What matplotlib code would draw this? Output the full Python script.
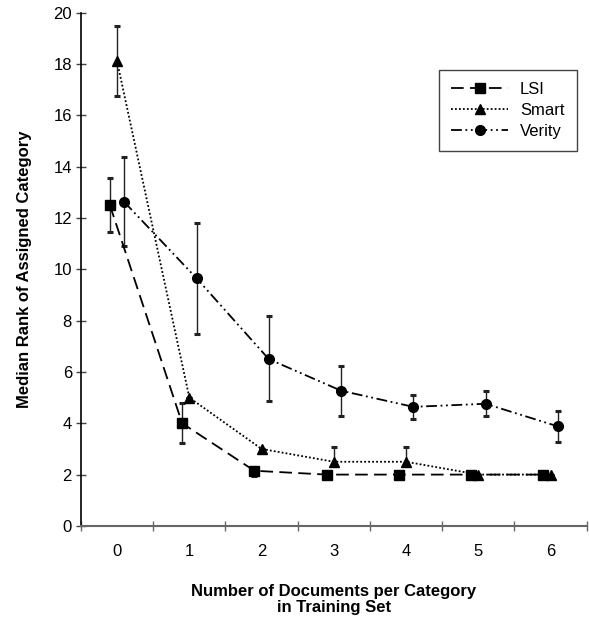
import numpy as np
import matplotlib.pyplot as plt

plt.rcParams['font.family'] = ['Liberation Sans', 'DejaVu Sans']

docs = [0, 1, 2, 3, 4, 5, 6]

lsi = [12.5, 4.0, 2.15, 2.0, 2.0, 2.0, 2.0]
lsi_hi = [13.55, 4.78, 2.3, 2.0, 2.0, 2.0, 2.0]
lsi_lo = [11.47, 3.23, 1.95, 2.0, 2.0, 2.0, 2.0]

smart = [18.1, 5.0, 3.0, 2.5, 2.5, 2.0, 2.0]
smart_hi = [19.5, 5.0, 3.0, 3.08, 3.08, 2.0, 2.0]
smart_lo = [16.75, 5.0, 3.0, 2.4, 2.4, 2.0, 2.0]

verity = [12.62, 9.65, 6.5, 5.27, 4.64, 4.76, 3.88]
verity_hi = [14.38, 11.82, 8.18, 6.25, 5.1, 5.26, 4.48]
verity_lo = [10.9, 7.47, 4.87, 4.29, 4.18, 4.3, 3.28]

fig = plt.figure(figsize=(5.89, 6.18), dpi=100)
ax = fig.add_axes([0.1375, 0.149, 0.8585, 0.8305])

x = np.array(docs)


def draw(vals, hi, lo, shift, ls, marker, ms, label):
    vals = np.array(vals)
    err = [vals - np.array(lo), np.array(hi) - vals]
    ax.errorbar(x + shift, vals, yerr=err, fmt='none', ecolor='#222222',
                elinewidth=1.0, capsize=2.3, capthick=2.2, zorder=2)
    ax.plot(x + shift, vals, color='black', linestyle=ls, linewidth=1.3,
            marker=marker, markersize=ms, label=label, zorder=3)


draw(lsi, lsi_hi, lsi_lo, -0.1, (0, (7, 3.5)), 's', 6.5, 'LSI')
draw(smart, smart_hi, smart_lo, 0.0, (0, (1, 1.2)), '^', 7, 'Smart')
draw(verity, verity_hi, verity_lo, 0.1, (0, (6, 2, 1, 2, 1, 2)), 'o', 7, 'Verity')

ax.set_xlim(-0.5, 6.5)
ax.set_ylim(0, 20)
ax.set_yticks(np.arange(0, 21, 2))
ax.set_xticks(np.arange(-0.5, 6.6, 1))
ax.set_xticklabels([])
ax.set_xticks(x, minor=True)
ax.set_xticklabels([str(d) for d in docs], minor=True, fontsize=12)
ax.tick_params(axis='x', which='minor', length=0, pad=13)
ax.tick_params(axis='x', which='major', direction='inout', length=7,
               color='#666666', width=1)
ax.tick_params(axis='y', direction='inout', length=7, color='#444444',
               width=1, labelsize=12, pad=3)

for s in ['top', 'right']:
    ax.spines[s].set_visible(False)
ax.spines['left'].set_color('black')
ax.spines['left'].set_linewidth(1.2)
ax.spines['bottom'].set_color('#666666')
ax.spines['bottom'].set_linewidth(1.5)

ax.set_ylabel('Median Rank of Assigned Category', fontsize=12,
              fontweight='bold')
ax.yaxis.set_label_coords(-0.096, 0.5)
ax.set_xlabel('Number of Documents per Category\nin Training Set',
              fontsize=12, fontweight='bold', linespacing=1.05)
ax.xaxis.set_label_coords(0.5, -0.113)

leg = ax.legend(loc='upper left', bbox_to_anchor=(0.708, 0.889),
                borderaxespad=0, fancybox=False, fontsize=12,
                handlelength=3.4, handletextpad=0.7, borderpad=0.75,
                labelspacing=0.35, edgecolor='#444444', framealpha=1)
leg.get_frame().set_linewidth(1.0)

fig.savefig('out.png', dpi=100)
